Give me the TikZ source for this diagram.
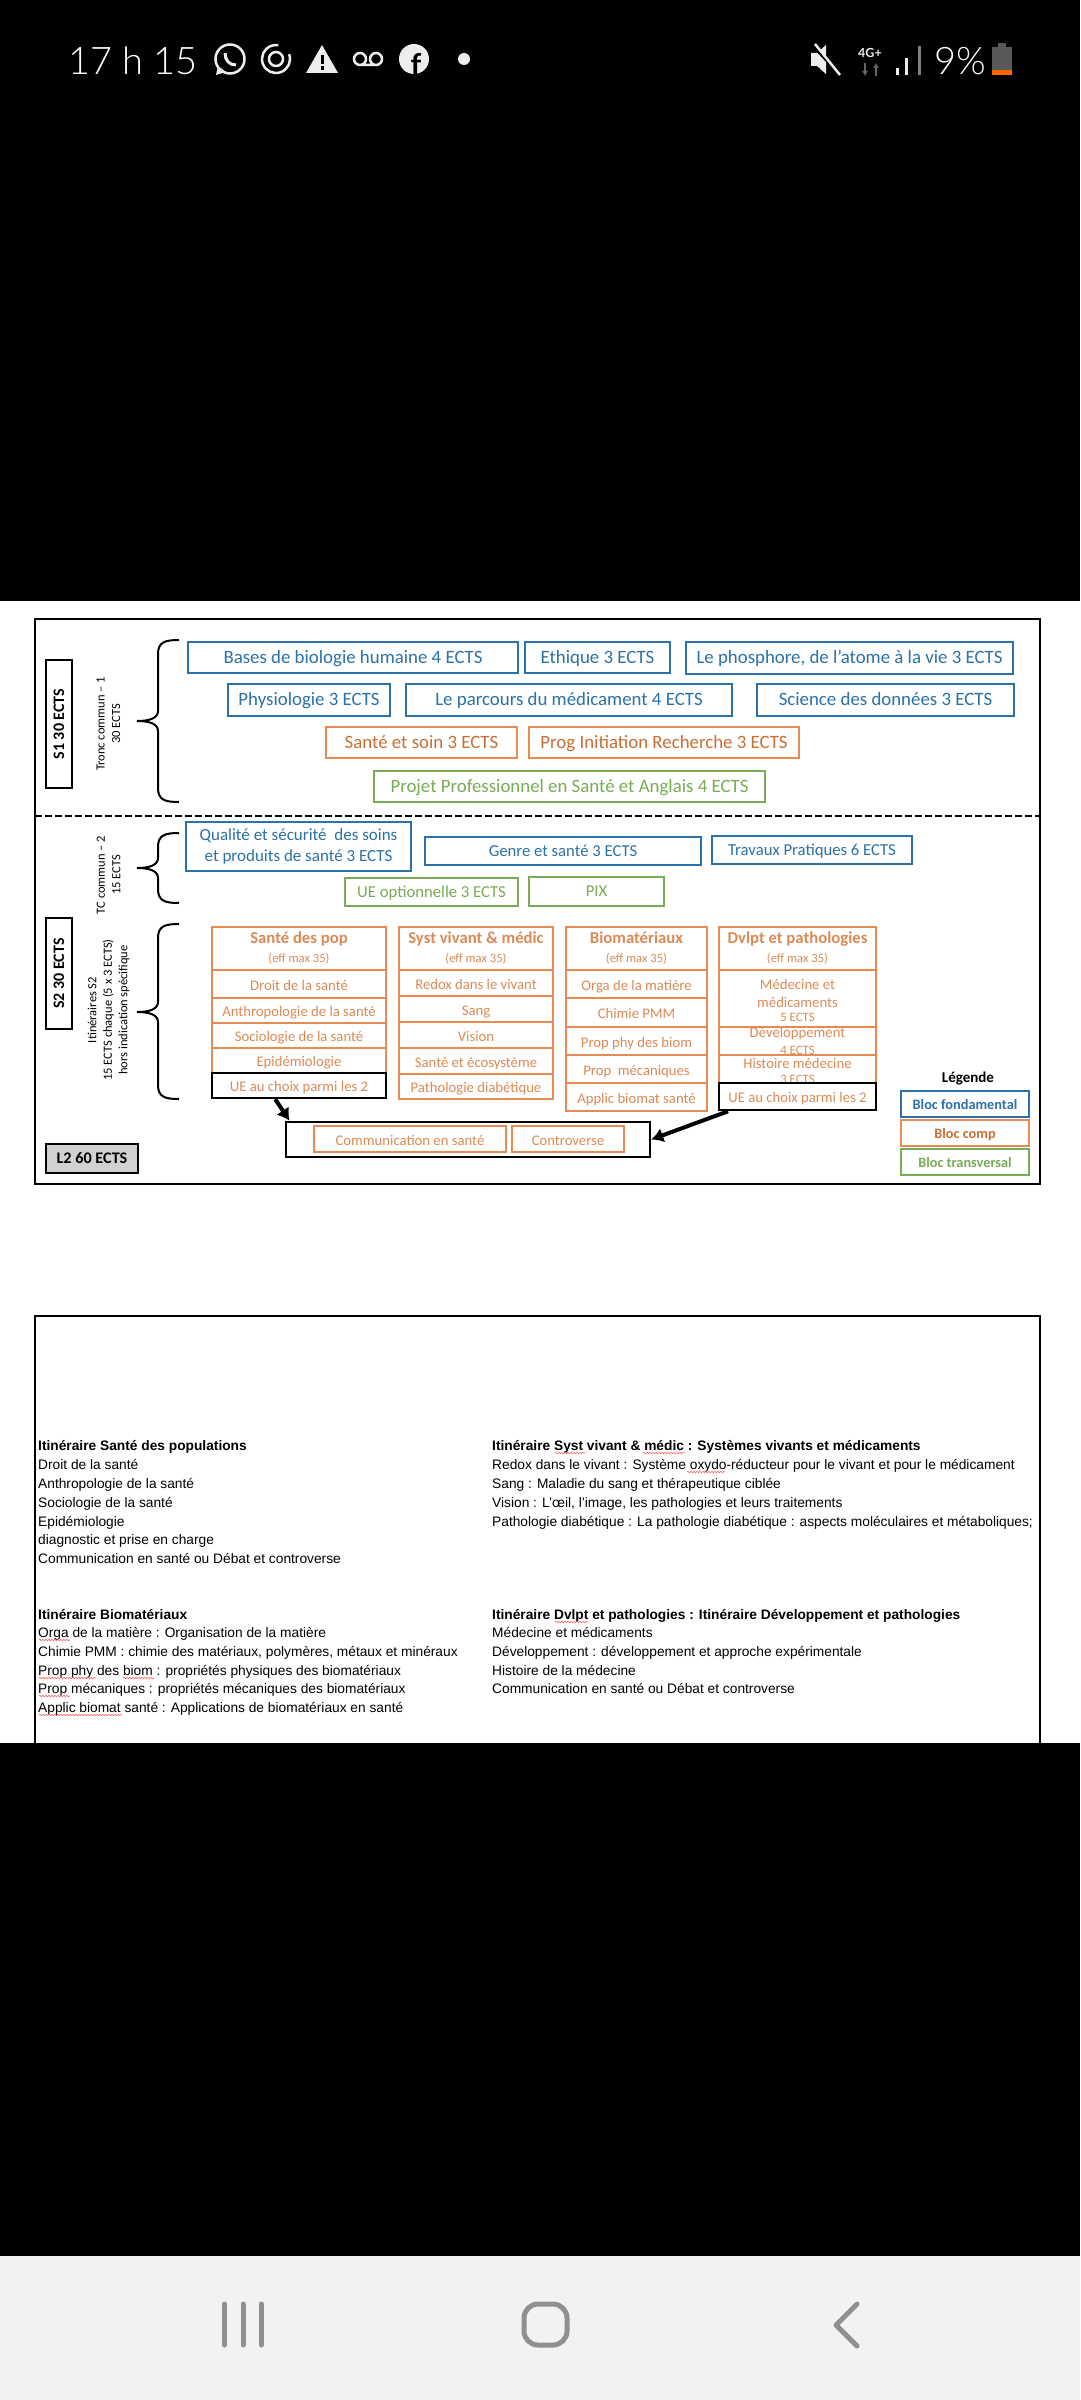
\documentclass[tikz,border=0pt]{standalone}
\usepackage{fontspec}
\usepackage{tikz}
\usetikzlibrary{arrows.meta,decorations.pathmorphing}
\setmainfont{Carlito}
\newfontfamily\arialfont{Liberation Sans}
\newfontfamily\phonefont{Lato Light}
\newfontfamily\phoneboldfont{Lato}
\definecolor{fondblue}{HTML}{2A72A8}
\definecolor{compline}{HTML}{E88B50}
\definecolor{comptext}{HTML}{C96F35}
\definecolor{itintext}{HTML}{DC8A55}
\definecolor{transgreen}{HTML}{78AC55}
\definecolor{navgrey}{HTML}{909090}
\tikzset{
  every node/.style={inner sep=0pt, align=center},
  bigline/.style={text height=15pt, text depth=3.4pt},
  midline/.style={text height=14pt, text depth=3.4pt, font=\fontsize{16.7}{18}\selectfont},
  fondbox/.style={draw=fondblue, line width=2.5pt, text=fondblue, font=\fontsize{18.85}{21}\selectfont},
  compbox/.style={draw=compline, line width=2.5pt, text=comptext, font=\fontsize{18.85}{21}\selectfont},
  transbox/.style={draw=transgreen, line width=2.5pt, text=transgreen, font=\fontsize{18.85}{21}\selectfont},
  itinbox/.style={draw=compline, line width=2.5pt, text=itintext, font=\fontsize{14.7}{18}\selectfont},
  itincell/.style={itinbox, text height=14pt, text depth=1.4pt},
  choixbox/.style={draw=black, line width=2.5pt, text=itintext, font=\fontsize{14.7}{18}\selectfont, text height=14pt, text depth=1.4pt},
  semester/.style={draw=black, line width=2.5pt, rotate=90, font=\bfseries\fontsize{16}{18}\selectfont},
  sidetext/.style={rotate=90, font=\fontsize{12.5}{15.5}\selectfont},
  legendbox/.style={line width=2.5pt, font=\bfseries\fontsize{14.3}{16}\selectfont, text height=12pt, text depth=1pt},
  notetext/.style={anchor=base west, font=\arialfont\fontsize{13.75}{15}\selectfont},
  notehead/.style={anchor=base west, font=\arialfont\bfseries\fontsize{13.75}{15}\selectfont},
  spell/.style={red!60!white, line width=0.6pt, decorate, decoration={snake, segment length=3pt, amplitude=0.8pt}},
  bracestyle/.style={line width=2pt},
  choixarrow/.style={line width=4pt, -{Latex[length=12pt,width=15pt]}},
  phoneline/.style={white!93!black, line width=2.5pt},
  navline/.style={navgrey, line width=5pt, line cap=round, line join=round}
}
\newcommand{\itinbrace}[3]{\draw[bracestyle] (179,#1) .. controls (165,#1) and (158,#1+2) .. (158,#1+14) -- (158,#2-10) .. controls (158,#2-3) and (150,#2) .. (137,#2) .. controls (150,#2) and (158,#2+3) .. (158,#2+10) -- (158,#3-14) .. controls (158,#3-2) and (165,#3) .. (179,#3);}
\newcommand{\itinhead}[1]{{\bfseries\fontsize{16.7}{18}\selectfont #1}\\[1pt]{\fontsize{12.6}{14}\selectfont (eff max 35)}}

\begin{document}
\begin{tikzpicture}[x=1pt,y=-1pt]
  \useasboundingbox (0,0) rectangle (1080,2400);
  \fill[black] (0,0) rectangle (1080,2400);
  \fill[white] (0,601) rectangle (1080,1743);
  \fill[black!5] (0,2256) rectangle (1080,2400);

  \node[text=white, anchor=west, font=\phonefont\fontsize{38}{40}\selectfont] (heure) at (68,61) {17 h 15};
  \draw[phoneline] (230,59) circle (14.5pt);
  \fill[white!93!black] (218,66) -- (216,75) -- (226,72) -- cycle;
  \draw[phoneline, line width=3pt] (225,53) .. controls (225,60) and (229,65) .. (236,65);
  \draw[phoneline] (276,59) +(20:14pt) arc[start angle=20, delta angle=-300, radius=14pt];
  \draw[phoneline] (276,59) circle (7pt);
  \fill[white!93!black] (322,45) -- (338,73) -- (306,73) -- cycle;
  \fill[black] (320.5,55) rectangle (323.5,64);
  \fill[black] (320.5,66) rectangle (323.5,70);
  \draw[phoneline] (360,59) circle (6pt) (376,59) circle (6pt) (360,65) -- (376,65);
  \fill[white!93!black] (414,59) circle (15pt);
  \node[text=black, font=\bfseries\phoneboldfont\fontsize{30}{30}\selectfont] (fb) at (416,64) {f};
  \fill[white!93!black] (464,59) circle (6pt);
  \fill[white!93!black] (811,53) -- (817,53) -- (826,45) -- (826,74) -- (817,66) -- (811,66) -- cycle;
  \draw[black, line width=4pt] (812,44) -- (840,74);
  \draw[phoneline] (815,44) -- (840,75);
  \node[text=white!93!black, font=\bfseries\phoneboldfont\fontsize{12.5}{13}\selectfont] (reseau) at (870,53) {4G+};
  \draw[black!60, line width=2pt, -{Latex[length=5pt,width=6pt]}] (865,63) -- (865,76);
  \draw[black!60, line width=2pt, -{Latex[length=5pt,width=6pt]}] (876,76) -- (876,63);
  \fill[white!93!black] (895.5,68) rectangle (898.5,75);
  \fill[white!93!black] (905,58) rectangle (908,75);
  \fill[black!50] (918,46) rectangle (921,75);
  \node[text=white, anchor=west, font=\phonefont\fontsize{38}{40}\selectfont] (batterie) at (934,61) {9\%};
  \fill[black!65] (998,43) rectangle (1006,48);
  \fill[black!65] (992,47) rectangle (1012,70);
  \fill[orange!80!red] (992,70) rectangle (1012,75);

  \draw[line width=2.5pt] (35,619) rectangle (1040,1184);
  \draw[line width=2pt, dash pattern=on 7pt off 3pt] (35,816) -- (1040,816);
  \draw[line width=2.5pt] (35,1743) -- (35,1316) -- (1040,1316) -- (1040,1743);

  \node[semester, minimum width=128pt, minimum height=26pt] (sun) at (59,724) {S1 30 ECTS};
  \node[semester, minimum width=111pt, minimum height=26pt] (sdeux) at (59,973.5) {S2 30 ECTS};
  \node[draw=black, line width=2.5pt, fill=black!18, minimum width=92pt, minimum height=29pt, font=\bfseries\fontsize{16.2}{18}\selectfont] (ldeux) at (92,1158.5) {L2 60 ECTS};
  \node[sidetext] (tronc) at (108.5,724) {Tronc commun -- 1\\30 ECTS};
  \node[sidetext] (tc) at (108.5,875) {TC commun -- 2\\15 ECTS};
  \node[sidetext] (itin) at (108.5,1010) {Itinéraires S2\\15 ECTS chaque (5 x 3 ECTS)\\hors indication spécifique};
  \itinbrace{640}{721}{802}
  \itinbrace{833}{868}{903}
  \itinbrace{924}{1012}{1099}

  \node[fondbox, bigline, minimum width=330pt, minimum height=31pt] (bases) at (353,657.5) {Bases de biologie humaine 4 ECTS};
  \node[fondbox, bigline, minimum width=145pt, minimum height=31pt] (ethique) at (597.5,657.5) {Ethique 3 ECTS};
  \node[fondbox, bigline, minimum width=327pt, minimum height=32pt] (phosphore) at (849.5,658) {Le phosphore, de l’atome à la vie 3 ECTS};
  \node[fondbox, bigline, minimum width=162pt, minimum height=32pt] (physio) at (309,700) {Physiologie 3 ECTS};
  \node[fondbox, bigline, minimum width=326pt, minimum height=32pt] (parcours) at (569,700) {Le parcours du médicament 4 ECTS};
  \node[fondbox, bigline, minimum width=257pt, minimum height=32pt] (science) at (885.5,700) {Science des données 3 ECTS};
  \node[compbox, bigline, minimum width=191pt, minimum height=31pt] (soin) at (421.5,742.5) {Santé et soin 3 ECTS};
  \node[compbox, bigline, minimum width=270pt, minimum height=31pt] (prog) at (664,742.5) {Prog Initiation Recherche 3 ECTS};
  \node[transbox, bigline, minimum width=391pt, minimum height=31pt] (projet) at (569.5,786.5) {Projet Professionnel en Santé et Anglais 4 ECTS};

  \node[fondbox, minimum width=225pt, minimum height=49pt, font=\fontsize{17}{21}\selectfont] (qualite) at (298.5,846.5) {Qualité et sécurité\ \ des soins\\et produits de santé 3 ECTS};
  \node[fondbox, midline, minimum width=276pt, minimum height=28pt] (genre) at (563,851) {Genre et santé 3 ECTS};
  \node[fondbox, midline, minimum width=200pt, minimum height=28pt] (travaux) at (812,850) {Travaux Pratiques 6 ECTS};
  \node[transbox, midline, minimum width=173pt, minimum height=28pt] (ueopt) at (431.5,892) {UE optionnelle 3 ECTS};
  \node[transbox, midline, minimum width=135pt, minimum height=29pt] (pix) at (596.5,891.5) {PIX};

  \node[itinbox, minimum width=174pt, minimum height=43pt] (pop) at (299,948.5) {\itinhead{Santé des pop}};
  \node[itincell, minimum width=174pt, minimum height=28pt] (droit) at (299,984) {Droit de la santé};
  \node[itincell, minimum width=174pt, minimum height=25pt] (anthro) at (299,1010.5) {Anthropologie de la santé};
  \node[itincell, minimum width=174pt, minimum height=25pt] (socio) at (299,1035.5) {Sociologie de la santé};
  \node[itincell, minimum width=174pt, minimum height=25pt] (epid) at (299,1060.5) {Epidémiologie};

  \node[itinbox, minimum width=154pt, minimum height=43pt] (syst) at (476,948.5) {\itinhead{Syst vivant \& médic}};
  \node[itincell, minimum width=154pt, minimum height=26pt] (redox) at (476,983) {Redox dans le vivant};
  \node[itincell, minimum width=154pt, minimum height=26pt] (sang) at (476,1009) {Sang};
  \node[itincell, minimum width=154pt, minimum height=26pt] (vision) at (476,1035) {Vision};
  \node[itincell, minimum width=154pt, minimum height=26pt] (eco) at (476,1061) {Santé et écosystème};
  \node[itincell, minimum width=154pt, minimum height=25pt] (diabete) at (476,1086.5) {Pathologie diabétique};

  \node[itinbox, minimum width=141pt, minimum height=43pt] (biomat) at (636.5,948.5) {\itinhead{Biomatériaux}};
  \node[itincell, minimum width=141pt, minimum height=28pt] (orga) at (636.5,984) {Orga de la matière};
  \node[itincell, minimum width=141pt, minimum height=29pt] (chimie) at (636.5,1012.5) {Chimie PMM};
  \node[itincell, minimum width=141pt, minimum height=28pt] (propphy) at (636.5,1041) {Prop phy des biom};
  \node[itincell, minimum width=141pt, minimum height=28pt] (propmeca) at (636.5,1069) {Prop\ \ mécaniques};
  \node[itincell, minimum width=141pt, minimum height=28pt] (applic) at (636.5,1097) {Applic biomat santé};

  \node[itinbox, minimum width=157pt, minimum height=43pt] (dvlpt) at (797.5,948.5) {\itinhead{Dvlpt et pathologies}};
  \node[itinbox, minimum width=157pt, minimum height=57pt] (medecine) at (797.5,998.5) {};
  \node[itinbox, draw=none] (medecinetxt) at (797.5,993) {Médecine et\\médicaments};
  \node[itinbox, draw=none, font=\fontsize{12.8}{14}\selectfont] (medecineects) at (797.5,1017) {5 ECTS};
  \node[itinbox, minimum width=157pt, minimum height=28pt] (dev) at (797.5,1041) {};
  \node[itinbox, draw=none] (devtxt) at (797.5,1034) {Développement};
  \node[itinbox, draw=none, font=\fontsize{12.8}{14}\selectfont] (devects) at (797.5,1050) {4 ECTS};
  \node[itinbox, minimum width=157pt, minimum height=28pt] (hist) at (797.5,1069) {};
  \node[itinbox, draw=none] (histtxt) at (797.5,1063) {Histoire médecine};
  \node[itinbox, draw=none, font=\fontsize{12.8}{14}\selectfont] (histects) at (797.5,1079) {3 ECTS};

  \node[choixbox, minimum width=174pt, minimum height=25pt] (choixpop) at (299,1085.5) {UE au choix parmi les 2};
  \node[choixbox, minimum width=157pt, minimum height=27pt] (choixdvlpt) at (797.5,1096.5) {UE au choix parmi les 2};

  \node[draw=black, line width=2.5pt, minimum width=364pt, minimum height=35pt] (choix) at (468,1139.5) {};
  \node[itincell, minimum width=192pt, minimum height=26pt] (comm) at (410,1139) {Communication en santé};
  \node[itincell, minimum width=112pt, minimum height=26pt] (controverse) at (568,1139) {Controverse};
  \draw[choixarrow] (choixpop.210.8) -- (choix.174);
  \draw[choixarrow] (choixdvlpt.192.4) -- (choix.east);

  \node[font=\bfseries\fontsize{15}{16}\selectfont] (legende) at (968,1078) {Légende};
  \node[legendbox, draw=fondblue, text=fondblue, minimum width=128pt, minimum height=26pt] (legfond) at (965,1104) {Bloc fondamental};
  \node[legendbox, draw=compline, text=comptext, minimum width=128pt, minimum height=26pt] (legcomp) at (965,1133) {Bloc comp};
  \node[legendbox, draw=transgreen, text=transgreen, minimum width=128pt, minimum height=26pt] (legtrans) at (965,1162) {Bloc transversal};

  \node[notehead] (pophead) at (38,1450) {Itinéraire Santé des populations};
  \node[notetext] (popa) at (38,1469) {Droit de la santé};
  \node[notetext] (popb) at (38,1488) {Anthropologie de la santé};
  \node[notetext] (popc) at (38,1507) {Sociologie de la santé};
  \node[notetext] (popd) at (38,1526) {Epidémiologie};
  \node[notetext] (pope) at (38,1544) {diagnostic et prise en charge};
  \node[notetext] (popf) at (38,1563) {Communication en santé ou Débat et controverse};

  \node[notehead] (biohead) at (38,1619) {Itinéraire Biomatériaux};
  \node[notetext] (bioa) at (38,1637) {Orga de la matière : Organisation de la matière};
  \node[notetext] (biob) at (38,1656) {Chimie PMM : chimie des matériaux, polymères, métaux et minéraux};
  \node[notetext] (bioc) at (38,1675) {Prop phy des biom : propriétés physiques des biomatériaux};
  \node[notetext] (biod) at (38,1693) {Prop mécaniques : propriétés mécaniques des biomatériaux};
  \node[notetext] (bioe) at (38,1712) {Applic biomat santé : Applications de biomatériaux en santé};

  \node[notehead] (systhead) at (492,1450) {Itinéraire Syst vivant \& médic : Systèmes vivants et médicaments};
  \node[notetext] (systa) at (492,1469) {Redox dans le vivant : Système oxydo-réducteur pour le vivant et pour le médicament};
  \node[notetext] (systb) at (492,1488) {Sang : Maladie du sang et thérapeutique ciblée};
  \node[notetext] (systc) at (492,1507) {Vision : L’œil, l’image, les pathologies et leurs traitements};
  \node[notetext] (systd) at (492,1526) {Pathologie diabétique : La pathologie diabétique : aspects moléculaires et métaboliques;};

  \node[notehead] (dvlpthead) at (492,1619) {Itinéraire Dvlpt et pathologies : Itinéraire Développement et pathologies};
  \node[notetext] (dvlpta) at (492,1637) {Médecine et médicaments};
  \node[notetext] (dvlptb) at (492,1656) {Développement : développement et approche expérimentale};
  \node[notetext] (dvlptc) at (492,1675) {Histoire de la médecine};
  \node[notetext] (dvlptd) at (492,1693) {Communication en santé ou Débat et controverse};

  \draw[spell] (39,1640) -- (70,1640);
  \draw[spell] (39,1678) -- (96,1678);
  \draw[spell] (123,1678) -- (154,1678);
  \draw[spell] (39,1696) -- (70,1696);
  \draw[spell] (39,1715) -- (122,1715);
  \draw[spell] (555,1453) -- (585,1453);
  \draw[spell] (643,1453) -- (685,1453);
  \draw[spell] (687,1472) -- (725,1472);
  \draw[spell] (555,1622) -- (588,1622);

  \draw[navline] (224.5,2304) -- (224.5,2345);
  \draw[navline] (243,2304) -- (243,2345);
  \draw[navline] (261,2304) -- (261,2345);
  \draw[navline, rounded corners=14pt] (524,2304) rectangle (567,2345);
  \draw[navline] (857,2304) -- (836,2325) -- (857,2346);
\end{tikzpicture}
\end{document}
